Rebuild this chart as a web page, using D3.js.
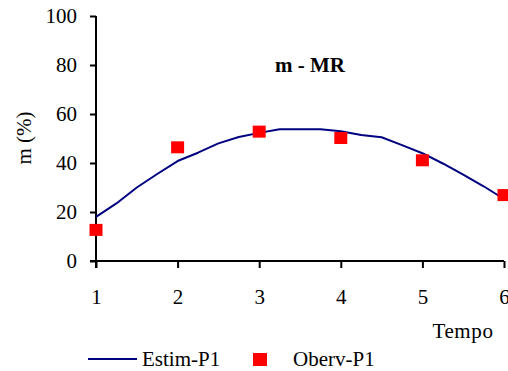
<!DOCTYPE html>
<html>
<head>
<meta charset="utf-8">
<script src="https://cdn.jsdelivr.net/npm/d3@7"></script>
<style>
  html, body { margin: 0; padding: 0; background: #fff; }
</style>
</head>
<body>
<svg id="chart" width="508" height="371"></svg>
<script>
// Estimated curve (Estim-P1), sampled every quarter of a time unit
const estimTimes = [1, 1.25, 1.5, 1.75, 2, 2.25, 2.5, 2.75, 3, 3.25, 3.5, 3.75, 4, 4.25, 4.5, 4.75, 5, 5.25, 5.5, 5.75, 6];
const estimValues = [18, 23.5, 30, 35.5, 40.8, 44.2, 48, 50.6, 52.3, 53.8, 53.8, 53.8, 53, 51.4, 50.5, 47.3, 44, 39.8, 35.3, 30.5, 25.3];

// Observed points (Oberv-P1)
const obsTimes = [1, 2, 3, 4, 5, 6];
const obsValues = [12.7, 46.4, 52.8, 50.2, 41.1, 26.9];

const xTicks = [1, 2, 3, 4, 5, 6];
const yTicks = [0, 20, 40, 60, 80, 100];

const serif = "'Liberation Serif'";

const svg = d3.select("#chart");
const x = d3.scaleLinear().domain([1, 6]).range([96, 504]);
const y = d3.scaleLinear().domain([0, 100]).range([261, 16]);

// Axes
const yAxis = d3.axisLeft(y).tickValues(yTicks).tickFormat(d3.format("d"))
  .tickSize(6).tickPadding(13).tickSizeOuter(0);
const gy = svg.append("g").attr("transform", `translate(${x(1)},0)`).call(yAxis);
const xAxis = d3.axisBottom(x).tickValues(xTicks).tickFormat(d3.format("d"))
  .tickSize(7).tickPadding(21).tickSizeOuter(0);
const gx = svg.append("g").attr("transform", `translate(0,${y(0)})`).call(xAxis);

[gx, gy].forEach(g => {
  g.select(".domain").attr("stroke", "#000").attr("stroke-width", 2);
  g.selectAll(".tick line").attr("stroke", "#000").attr("stroke-width", 2);
  g.selectAll(".tick text").attr("fill", "#000")
    .style("font-family", serif).style("font-size", "21px");
});
// extend the axis lines past the origin
gx.select(".domain").attr("d", `M${x(1) - 6},0H${x(6)}`);
gy.select(".domain").attr("d", `M0,${y(100)}V${y(0) + 7}`);

// Estimated line
const line = d3.line().x((d, i) => x(estimTimes[i])).y(d => y(d));
svg.append("path")
  .datum(estimValues)
  .attr("d", line)
  .attr("fill", "none")
  .attr("stroke", "#000080")
  .attr("stroke-width", 2)
  .attr("stroke-linejoin", "round");

// Observed markers
const ms = 13;
svg.append("g").selectAll("rect")
  .data(obsValues)
  .join("rect")
  .attr("x", (d, i) => x(obsTimes[i]) - ms / 2)
  .attr("y", d => y(d) - 6)
  .attr("width", ms)
  .attr("height", 12)
  .attr("fill", "#ff0000");

function label(sel) {
  return sel.style("font-family", serif).style("font-size", "21px").attr("fill", "#000");
}

// Title
label(svg.append("text"))
  .attr("x", 310).attr("y", 72)
  .attr("text-anchor", "middle")
  .style("font-weight", "bold")
  .text("m - MR");

// Axis titles
label(svg.append("text"))
  .attr("transform", "translate(31,138) rotate(-90)")
  .attr("text-anchor", "middle")
  .text("m (%)");

label(svg.append("text"))
  .attr("x", 463).attr("y", 338)
  .attr("text-anchor", "middle")
  .style("letter-spacing", "0.6px")
  .text("Tempo");

// Legend
const lg = svg.append("g");
lg.append("line").attr("x1", 88).attr("x2", 137).attr("y1", 359).attr("y2", 359)
  .attr("stroke", "#000080").attr("stroke-width", 2);
label(lg.append("text")).attr("x", 142).attr("y", 366).text("Estim-P1");
lg.append("rect").attr("x", 253).attr("y", 353).attr("width", 14).attr("height", 13).attr("fill", "#ff0000");
label(lg.append("text")).attr("x", 293).attr("y", 366).text("Oberv-P1");
</script>
</body>
</html>
